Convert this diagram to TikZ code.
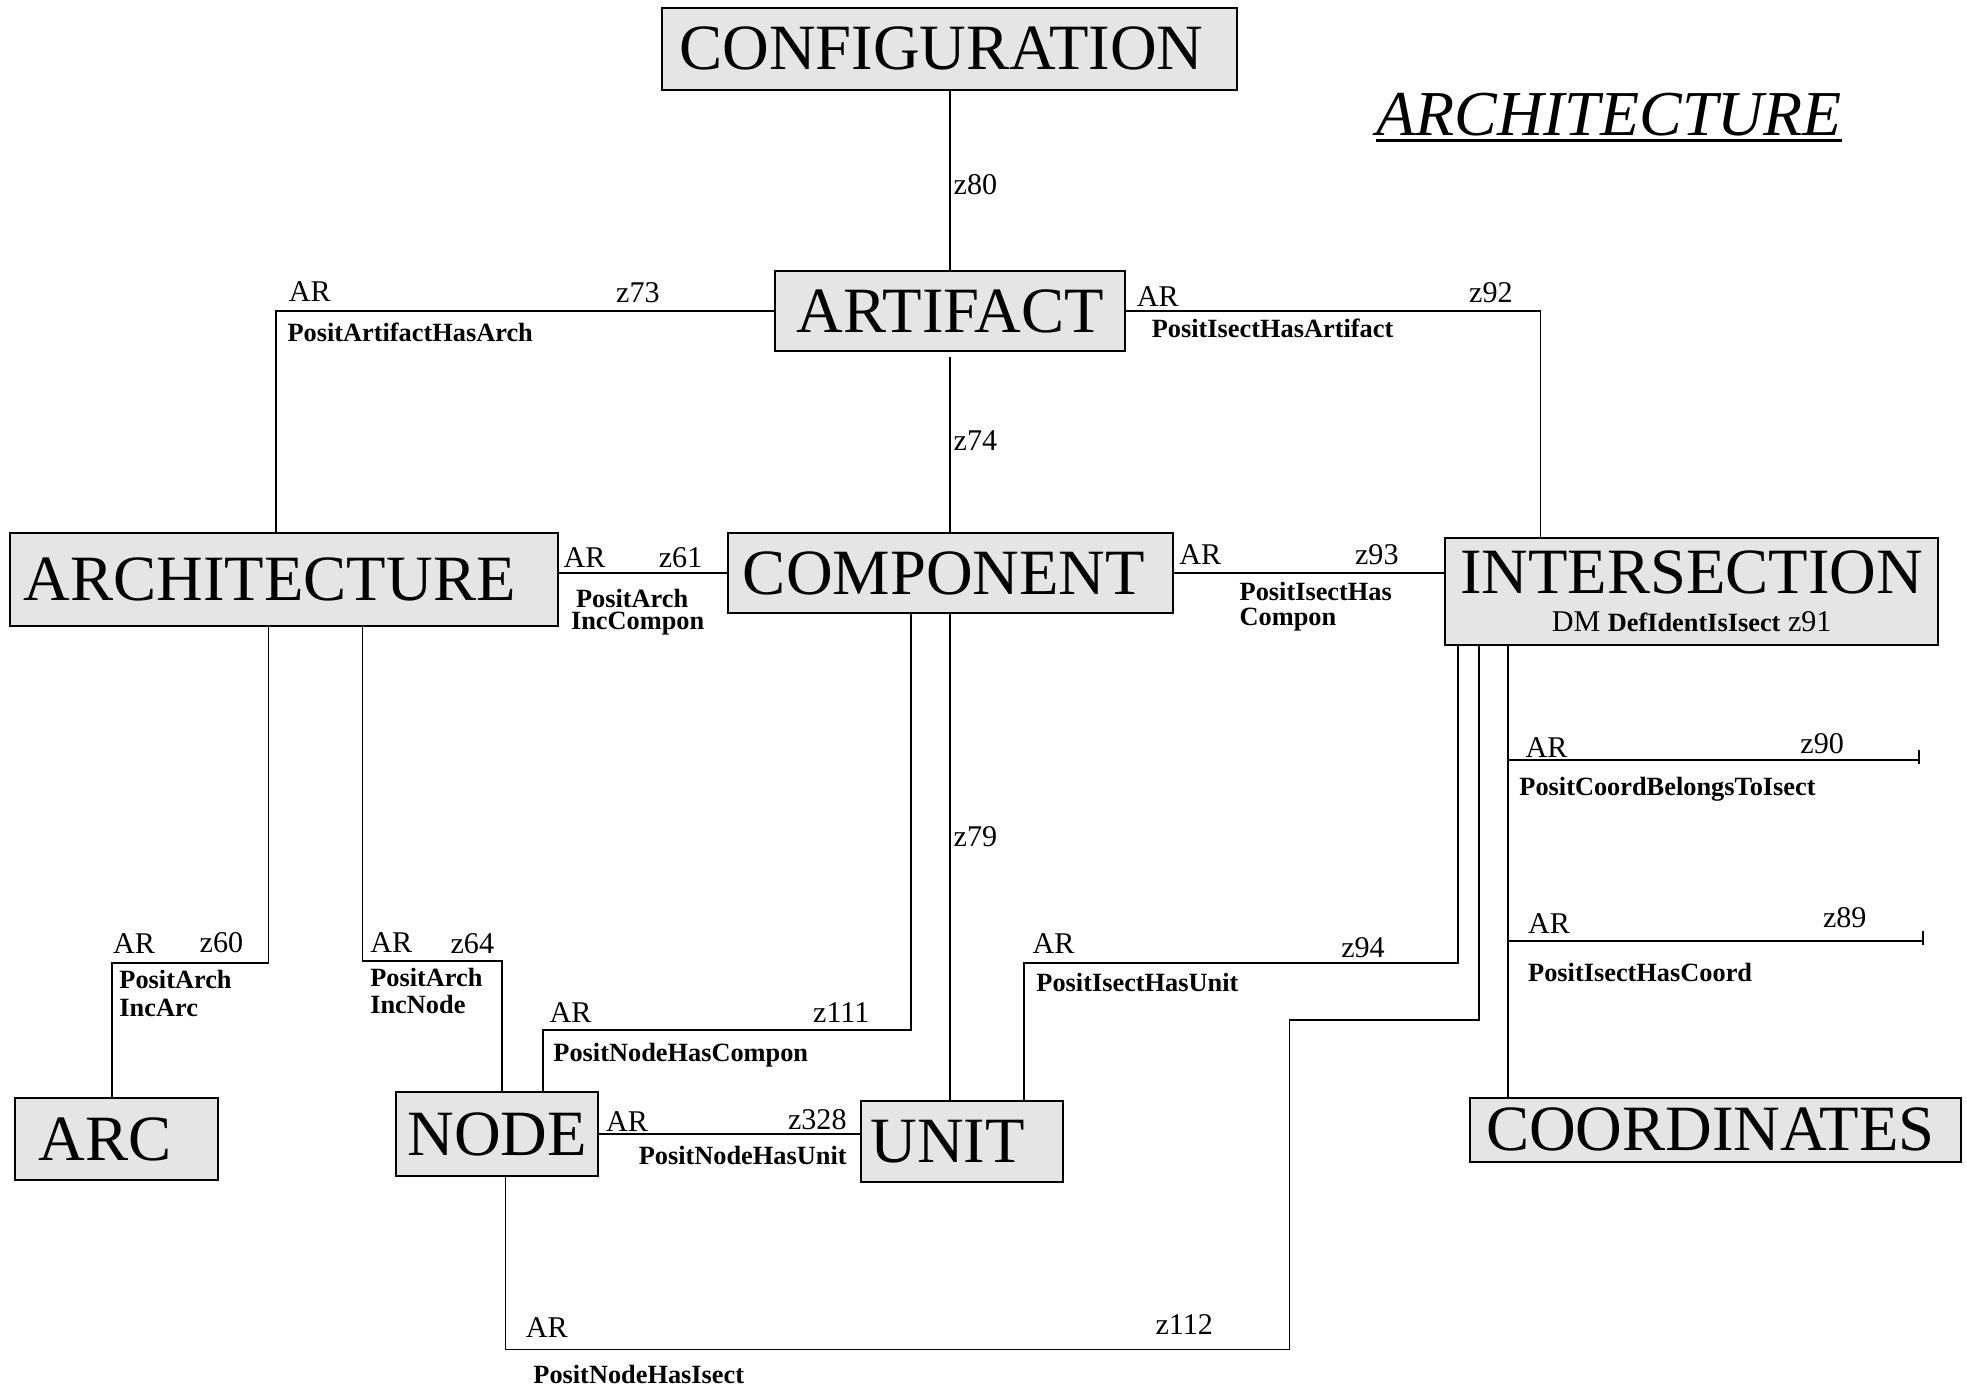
\documentclass[tikz,border=0pt]{standalone}
\usepackage{fontspec}
\setmainfont{Liberation Serif}
\tikzset{
  entity/.style={draw, line width=1.6pt, fill=gray!20, inner sep=0pt, font=\fontsize{51.5}{51.5}\selectfont},
  rel/.style={line width=1.4pt},
  tag/.style={inner sep=0pt, anchor=base west, font=\fontsize{24}{24}\selectfont},
  role/.style={inner sep=0pt, anchor=base west, font=\bfseries\fontsize{21}{21}\selectfont},
}
\begin{document}
\begin{tikzpicture}[x=1pt,y=-1pt]
\useasboundingbox (0,0) rectangle (1568,1106);
% entities
\node[entity, minimum width=458pt, minimum height=66pt] (conf) at (757,39) {CONFIGURATION\hspace*{13pt}};
\node[entity, minimum width=279pt, minimum height=64pt] (artif) at (757.5,248) {ARTIFACT};
\node[entity, minimum width=437pt, minimum height=74pt] (archi) at (226.5,462) {ARCHITECTURE\hspace*{23pt}};
\node[entity, minimum width=355pt, minimum height=64pt] (compon) at (757.5,457) {COMPONENT\hspace*{10pt}};
\node[entity, minimum width=393pt, minimum height=85pt, align=center, font=\fontsize{51.5}{30}\selectfont] (isect) at (1348.5,471.5)
  {INTERSECTION\\{\fontsize{24}{24}\selectfont DM {\bfseries\fontsize{21}{21}\selectfont DefIdentIsIsect} z91}};
\node[entity, minimum width=162pt, minimum height=66pt] (arc) at (93,908) {ARC\hspace*{18pt}};
\node[entity, minimum width=161pt, minimum height=67pt] (nodeb) at (396.5,904) {NODE};
\node[entity, minimum width=161pt, minimum height=65pt] (unit) at (766.5,910) {UNIT\hspace*{22pt}};
\node[entity, minimum width=391pt, minimum height=51pt] (coord) at (1367.5,900.5) {COORDINATES\hspace*{8pt}};
% title
\node[inner sep=0pt, anchor=base west, font=\itshape\fontsize{51}{51}\selectfont] (title) at (1097,108) {ARCHITECTURE};
\draw[line width=2.5pt] ([yshift=-4pt]title.base west) -- ([yshift=-4pt]title.base east);
% connectors
\draw[rel] (conf.south) -- (conf.south |- artif.north);
\draw[rel] ([yshift=-4pt]artif.south) -- (artif.south |- compon.north);
\draw[rel] (compon.south) -- (compon.south |- unit.north);
\draw[rel] (artif.west) -| ([xshift=-6.5pt]archi.north);
\draw[rel] (artif.east) -| ([xshift=-120.5pt]isect.north);
\draw[rel] (archi.east |- compon.west) -- (compon.west);
\draw[rel] (compon.east) -- (compon.east -| isect.west);
\draw[rel] ([xshift=-12.5pt]archi.south) -- ++(0,268) -| ([xshift=-4pt]arc.north);
\draw[rel] ([xshift=62.5pt]archi.south) -- ++(0,266) -| ([xshift=3.5pt]nodeb.north);
\draw[rel] ([xshift=-31.5pt]compon.south) -- ++(0,331) -| ([xshift=36.5pt]nodeb.north);
\draw[rel] ([xshift=-186.5pt]isect.south) -- ++(0,253) -| ([xshift=49.5pt]unit.north);
\draw[rel] ([xshift=-169.5pt]isect.south) -- ++(0,298) -- ++(-151,0) -- ++(0,263) -| ([xshift=6.5pt]nodeb.south);
\draw[rel] (nodeb.east) -- (nodeb.east -| unit.west);
\coordinate (trunk) at ([xshift=-146.5pt]isect.south);
\draw[rel] (trunk) -- (trunk |- coord.north);
\coordinate (end90) at (1530,606);
\coordinate (end89) at (1533,750);
\draw[rel] (trunk |- end90) -- (end90);
\draw[rel] ([yshift=8pt]end90) -- ([yshift=-3pt]end90);
\draw[rel] (trunk |- end89) -- (end89);
\draw[rel] ([yshift=8pt]end89) -- ([yshift=-3pt]end89);
% labels
\node[tag] at (760,155) {z80};
\node[tag] at (760,359) {z74};
\node[tag] at (760,675) {z79};
\node[tag] at (230,240) {AR};
\node[tag] at (491,241) {z73};
\node[role] at (229,272) {PositArtifactHasArch};
\node[tag] at (906,244) {AR};
\node[tag] at (1171,241) {z92};
\node[role] at (918,269) {PositIsectHasArtifact};
\node[tag] at (449,452) {AR};
\node[tag] at (525,452) {z61};
\node[role] at (459,484) {PositArch};
\node[role] at (455,502) {IncCompon};
\node[tag] at (940,450) {AR};
\node[tag] at (1080,450) {z93};
\node[role] at (988,479) {PositIsectHas};
\node[role] at (988,499) {Compon};
\node[tag] at (90,760) {AR};
\node[tag] at (159,759) {z60};
\node[role] at (95,788) {PositArch};
\node[role] at (95,810) {IncArc};
\node[tag] at (295,759) {AR};
\node[tag] at (359,760) {z64};
\node[role] at (295,786) {PositArch};
\node[role] at (295,808) {IncNode};
\node[tag] at (438,815) {AR};
\node[tag] at (648,815) {z111};
\node[role] at (441,846) {PositNodeHasCompon};
\node[tag] at (483,902) {AR};
\node[tag] at (628,900) {z328};
\node[role] at (509,928) {PositNodeHasUnit};
\node[tag] at (823,760) {AR};
\node[tag] at (1069,763) {z94};
\node[role] at (826,790) {PositIsectHasUnit};
\node[tag] at (419,1066) {AR};
\node[tag] at (921,1064) {z112};
\node[role] at (425,1103) {PositNodeHasIsect};
\node[tag] at (1216,604) {AR};
\node[tag] at (1435,601) {z90};
\node[role] at (1211,634) {PositCoordBelongsToIsect};
\node[tag] at (1218,744) {AR};
\node[tag] at (1453,739) {z89};
\node[role] at (1218,782) {PositIsectHasCoord};
\end{tikzpicture}
\end{document}
